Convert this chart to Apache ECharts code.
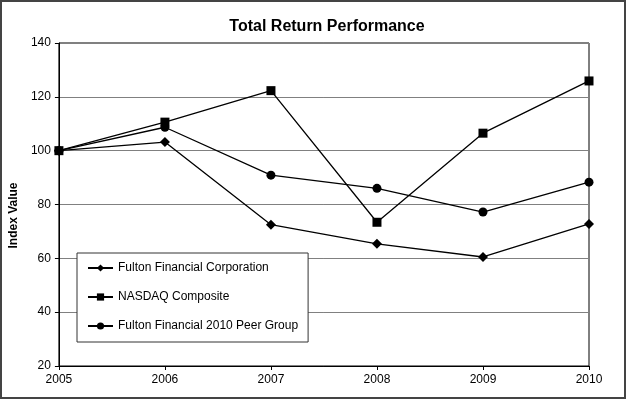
<!DOCTYPE html>
<html><head><meta charset="utf-8">
<script src="https://cdn.jsdelivr.net/npm/echarts@6/dist/echarts.min.js"></script>
<style>html,body{margin:0;padding:0;background:#fff}#c{width:626px;height:399px}</style>
</head><body><div id="c"></div>
<script>
var years = [2005, 2006, 2007, 2008, 2009, 2010];
var fulton = [100, 103.2, 72.5, 65.4, 60.5, 72.8];
var nasdaq = [100, 110.6, 122.3, 73.4, 106.5, 125.9];
var peer = [100, 108.7, 90.9, 86.0, 77.2, 88.3];
var seriesNames = ['Fulton Financial Corporation', 'NASDAQ Composite', 'Fulton Financial 2010 Peer Group'];

function pairs(vals){ return years.map(function(y,i){ return [y, vals[i]]; }); }
var font = '"Liberation Sans", Arial, sans-serif';
function mk(name, vals, sym, size){
  return {name:name, type:'line', data:pairs(vals), symbol:sym, symbolSize:size,
    lineStyle:{color:'#000', width:1.3}, itemStyle:{color:'#000'}, animation:false};
}
var chart = echarts.init(document.getElementById('c'), null, {renderer:'canvas'});
chart.setOption({
  backgroundColor:'#fff',
  animation:false,
  title:{text:'Total Return Performance', left:322, top:14, textAlign:'center',
    textStyle:{fontFamily:font, fontSize:16, fontWeight:'bold', color:'#000'}},
  grid:{left:54, right:37, top:43, bottom:33, show:true, borderColor:'#000', borderWidth:1, backgroundColor:'#fff'},
  xAxis:{type:'value', min:2005, max:2010, interval:1,
    axisLine:{show:true, lineStyle:{color:'#000'}}, axisTick:{show:true, length:4, lineStyle:{color:'#000'}},
    splitLine:{show:false},
    axisLabel:{color:'#000', fontFamily:font, fontSize:12, margin:8, formatter:function(v){return String(v);}}},
  yAxis:{type:'value', min:20, max:140, interval:20, name:'Index Value', nameLocation:'middle', nameGap:32,
    nameTextStyle:{fontFamily:font, fontSize:12, fontWeight:'bold', color:'#000', padding:[0,22,0,0]},
    axisLine:{show:true, lineStyle:{color:'#000'}}, axisTick:{show:true, length:4, lineStyle:{color:'#000'}},
    splitLine:{show:true, lineStyle:{color:'#808080', width:1}},
    axisLabel:{color:'#000', fontFamily:font, fontSize:12, margin:8}},
  legend:{orient:'vertical', left:77, top:253, data:seriesNames,
    backgroundColor:'#fff', borderColor:'#333', borderWidth:1, padding:[9,10,10,10],
    itemGap:17, itemWidth:25, itemHeight:9,
    textStyle:{fontFamily:font, fontSize:12, color:'#000', lineHeight:12}},
  graphic:[{type:'rect', shape:{x:1, y:1, width:624, height:397}, style:{fill:'none', stroke:'#444', lineWidth:2}, silent:true, z:100}],
  series:[mk(seriesNames[0], fulton, 'diamond', 10), mk(seriesNames[1], nasdaq, 'rect', 9), mk(seriesNames[2], peer, 'circle', 9)]
});
</script></body></html>
